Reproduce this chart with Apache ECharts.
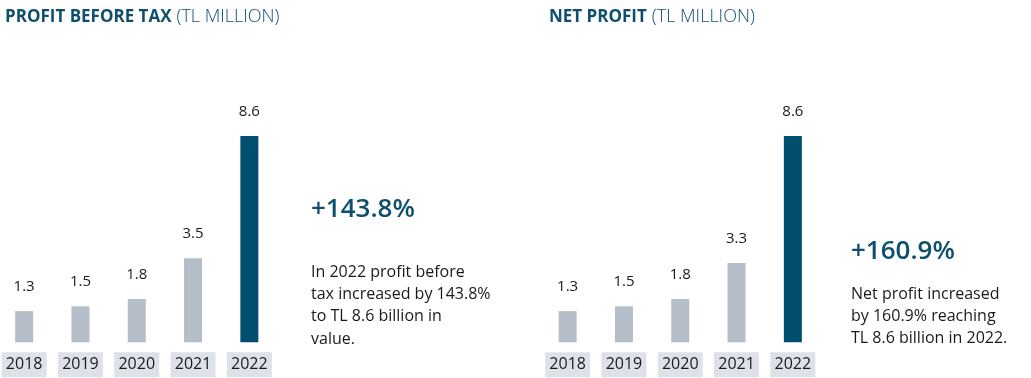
<!DOCTYPE html>
<html><head><meta charset="utf-8">
<script src="https://cdn.jsdelivr.net/npm/echarts@6/dist/echarts.min.js"></script>
<style>html,body{margin:0;padding:0;background:#fff}#c{width:1031px;height:378px}</style>
</head><body><div id="c"></div>
<script>
const years = ['2018','2019','2020','2021','2022'];
const profitBeforeTax = [1.3, 1.5, 1.8, 3.5, 8.6];
const netProfit = [1.3, 1.5, 1.8, 3.3, 8.6];
const FONT = 'Open Sans';
const DARK = '#004f6e', GREY = '#b5bdc9', BOX = '#dde1e8';
const chart = echarts.init(document.getElementById('c'));
function barData(vals){
  return vals.map((v,i)=>({value:v, itemStyle:{color: i===vals.length-1?DARK:GREY}}));
}
function xAx(idx){
  return {type:'category', gridIndex:idx, data:years, axisLine:{show:false}, axisTick:{show:false},
    axisLabel:{margin:10, color:'#1a1a1a', fontFamily:FONT, fontSize:16, backgroundColor:BOX, width:45, align:'center', padding:[3,0,3,0], lineHeight:19}};
}
function yAx(idx){ return {type:'value', gridIndex:idx, min:0, max:10, show:false}; }
function ser(idx, vals){
  return {type:'bar', xAxisIndex:idx, yAxisIndex:idx, data:barData(vals), barWidth:18,
    label:{show:true, position:'top', distance:17, color:'#1a1a1a', fontFamily:FONT, fontSize:15}};
}
const titleRich = {b:{fontFamily:FONT,fontWeight:'bold',fontSize:17,color:'#0e4f6e'},l:{fontFamily:FONT,fontWeight:300,fontSize:18,color:'#0e4f6e'}};
chart.setOption({
  animation:false,
  title:[
    {left:0, top:3, text:'{b|PROFIT BEFORE TAX} {l|(TL MILLION)}', textStyle:{rich:titleRich}},
    {left:544, top:3, text:'{b|NET PROFIT} {l|(TL MILLION)}', textStyle:{rich:titleRich}},
    {left:306, top:192, text:'+143.8%', textStyle:{fontFamily:FONT, fontWeight:600, fontSize:26, color:'#0e4f6e'}},
    {left:306, top:256, text:'In 2022 profit before\ntax increased by 143.8%\nto TL 8.6 billion in\nvalue.', textStyle:{fontFamily:FONT, fontWeight:'normal', fontSize:16, lineHeight:22.3, color:'#1a1a1a'}},
    {left:846, top:234, text:'+160.9%', textStyle:{fontFamily:FONT, fontWeight:600, fontSize:26, color:'#0e4f6e'}},
    {left:846, top:278, text:'Net profit increased\nby 160.9% reaching\nTL 8.6 billion in 2022.', textStyle:{fontFamily:FONT, fontWeight:'normal', fontSize:16, lineHeight:22.3, color:'#1a1a1a'}}
  ],
  grid:[
    {left:-4, width:281.5, top:102.3, height:240, outerBoundsMode:'none'},
    {left:539.5, width:281.5, top:102.3, height:240, outerBoundsMode:'none'}
  ],
  xAxis:[xAx(0), xAx(1)],
  yAxis:[yAx(0), yAx(1)],
  series:[ser(0, profitBeforeTax), ser(1, netProfit)]
});
</script></body></html>
